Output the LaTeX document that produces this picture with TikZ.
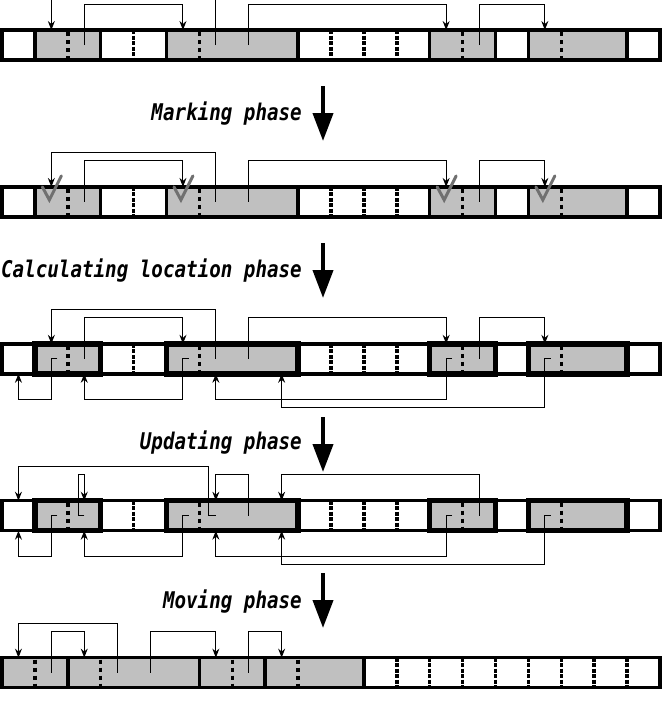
\documentclass[tikz,border=0pt]{standalone}
\usepackage{fontspec}
\usepackage{xcolor}
\usepackage{tikz}
\usetikzlibrary{arrows.meta,calc}
\newfontfamily\phasefont[FakeStretch=0.835,BoldItalicFont={* Bold Oblique}]{DejaVu Sans Mono}
\definecolor{objgray}{HTML}{C0C0C0}
\definecolor{tickgray}{HTML}{707070}
\tikzset{
  cellbox/.style={minimum width=32.9pt,minimum height=30pt,inner sep=0pt,outer sep=0pt},
  heapbar/.style={draw,line width=3.5pt,fill=white},
  objbox/.style={draw,line width=3.5pt,fill=objgray},
  markbox/.style={draw,line width=5.5pt,fill=objgray},
  slotline/.style={line width=3.5pt,dash pattern=on 4pt off 4pt,dash phase=6pt},
  freeline/.style={line width=3.5pt,dash pattern=on 4pt off 1.5pt},
  ptr/.style={-{Stealth[length=9pt,width=7pt,inset=3pt]},line width=1pt},
  phasearr/.style={-{Triangle[length=28pt,width=20pt]},line width=4pt},
  phaselbl/.style={anchor=base east,inner sep=0pt,
                   font={\fontsize{23}{23}\phasefont\bfseries\itshape}},
  tick/.style={line width=3pt,tickgray,line cap=round},
}

\begin{document}
\begin{tikzpicture}[x=1pt,y=-1pt]
  \useasboundingbox (0,0) rectangle (666,702);
  \clip (0,0) rectangle (666,702);
  % heap cells of the five snapshots
  \foreach \row/\y in {1/45,2/201.9,3/358.8,4/515.7,5/672.6}{
    \foreach \i in {0,...,19}
      \node[cellbox] (r\row-\i) at ({2+32.9*(\i+0.5)},\y) {};
    \draw[heapbar] (r\row-0.north west) rectangle (r\row-19.south east);
    \foreach \i in {1,...,19}
      \draw[freeline] (r\row-\i.north west) -- (r\row-\i.south west);
  }
  % objects before compaction
  \foreach \row/\objstyle in {1/objbox,2/objbox,3/markbox,4/markbox}{
    \foreach \a/\b in {1/2,5/8,13/14,16/18}{
      \draw[\objstyle] (r\row-\a.north west) rectangle (r\row-\b.south east);
      \draw[slotline] (r\row-\a.north east) -- (r\row-\a.south east);
    }
  }
  % objects after moving
  \foreach \a/\b in {0/1,2/5,6/7,8/10}{
    \draw[objbox] (r5-\a.north west) rectangle (r5-\b.south east);
    \draw[slotline] (r5-\a.north east) -- (r5-\a.south east);
  }
  % mark bits
  \foreach \i in {1,5,13,16}
    \draw[tick] ([shift={(-9,-15)}]r2-\i.center) -- ++(7,13) -- ++(12,-24);
  % pointers between objects
  \foreach \row in {1,2,3}{
    \draw[ptr] (r\row-6.center) -- ++(0,-49) -| (r\row-1.north);
    \draw[ptr] (r\row-2.center) -- ++(0,-41) -| (r\row-5.north);
    \draw[ptr] (r\row-7.center) -- ++(0,-41) -| (r\row-13.north);
    \draw[ptr] (r\row-14.center) -- ++(0,-41) -| (r\row-16.north);
  }
  % forwarding addresses
  \foreach \row in {3,4}{
    \draw[ptr] ([xshift=6pt]r\row-1.center) -- (r\row-1.center) -- ++(0,41) -| (r\row-0.south);
    \draw[ptr] ([xshift=6pt]r\row-5.center) -- (r\row-5.center) -- ++(0,41) -| (r\row-2.south);
    \draw[ptr] ([xshift=6pt]r\row-13.center) -- (r\row-13.center) -- ++(0,41) -| (r\row-6.south);
    \draw[ptr] ([xshift=6pt]r\row-16.center) -- (r\row-16.center) -- ++(0,49) -| (r\row-8.south);
  }
  % updated pointers
  \draw[ptr] (r4-6.center) -- ([xshift=-7pt]r4-6.center) -- ++(0,-49) -| (r4-0.north);
  \draw[ptr] (r4-2.center) -- ([xshift=-6pt]r4-2.center) -- ++(0,-41) -| (r4-2.north);
  \draw[ptr] (r4-7.center) -- ++(0,-41) -| (r4-6.north);
  \draw[ptr] (r4-14.center) -- ++(0,-41) -| (r4-8.north);
  % pointers after moving
  \draw[ptr] (r5-1.center) -- ++(0,-41) -| (r5-2.north);
  \draw[ptr] (r5-3.center) -- ++(0,-49) -| (r5-0.north);
  \draw[ptr] (r5-4.center) -- ++(0,-41) -| (r5-6.north);
  \draw[ptr] (r5-7.center) -- ++(0,-41) -| (r5-8.north);
  % phases
  \coordinate (p1a) at (323,86);  \coordinate (p1b) at (323,141);
  \coordinate (p2a) at (323,243); \coordinate (p2b) at (323,298);
  \coordinate (p3a) at (323,417); \coordinate (p3b) at (323,472);
  \coordinate (p4a) at (323,573); \coordinate (p4b) at (323,628);
  \draw[phasearr] (p1a) -- (p1b);
  \draw[phasearr] (p2a) -- (p2b);
  \draw[phasearr] (p3a) -- (p3b);
  \draw[phasearr] (p4a) -- (p4b);
  \node[phaselbl] (mark) at (302,120) {Marking phase};
  \node[phaselbl] (calc) at (302,277) {Calculating location phase};
  \node[phaselbl] (upd)  at (302,449) {Updating phase};
  \node[phaselbl] (move) at (302,608) {Moving phase};
\end{tikzpicture}
\end{document}
